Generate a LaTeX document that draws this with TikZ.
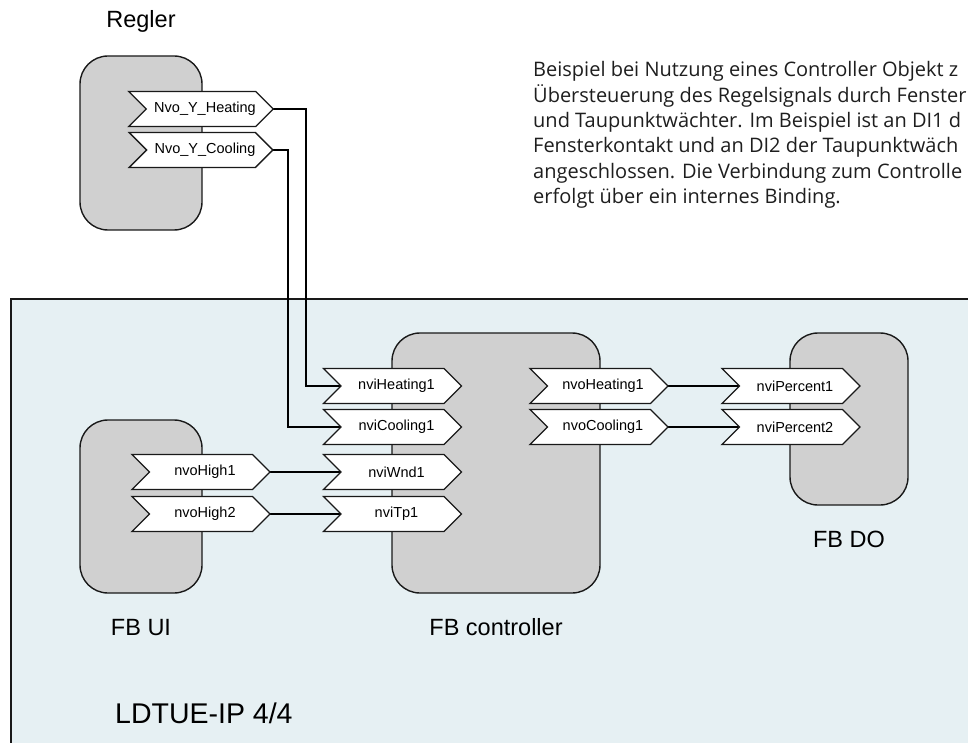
\documentclass[tikz,border=0pt]{standalone}
\usepackage{fontspec}
\setmainfont{Liberation Sans}
\newfontfamily\notefont{Open Sans}
\usetikzlibrary{shapes.symbols,calc}
\pgfdeclarelayer{back}
\pgfdeclarelayer{wires}
\pgfsetlayers{back,wires,main}
\definecolor{panel}{RGB}{230,240,243}
\definecolor{fbgray}{RGB}{208,208,208}
\definecolor{ink}{RGB}{25,25,25}
\definecolor{notegray}{RGB}{30,30,30}
\begin{document}
\begin{tikzpicture}[x=1pt,y=-1pt,
  fb/.style={draw=ink, fill=fbgray, line width=1.4pt, rounded corners=28pt, inner sep=0pt},
  tag/.style={shape=signal, signal from=west, signal to=east, draw=ink, fill=white,
    line width=1.3pt, minimum width=138pt, minimum height=35pt, inner sep=0pt,
    font=\fontsize{14.5}{16}\selectfont, execute at begin node=\hspace*{8pt}},
  wire/.style={draw=black, line width=1.8pt},
  boldwire/.style={draw=black, line width=2.7pt},
  lbl/.style={font=\fontsize{23.5}{27}\selectfont, anchor=base, inner sep=0pt},
  note/.style={font=\notefont\fontsize{20}{25}\selectfont, text=notegray, anchor=base west, inner sep=0pt},
]
\useasboundingbox (0,0) rectangle (968,743);
\clip (0,0) rectangle (968,743);

% device frame
\begin{pgfonlayer}{back}
  \node[draw=ink, fill=panel, line width=2.5pt, minimum width=1000pt, minimum height=480pt, inner sep=0pt]
    (dev) at (511,539) {};
\end{pgfonlayer}

% function blocks
\node[fb, minimum width=122pt, minimum height=174pt] (regler) at (141,143) {};
\node[fb, minimum width=122pt, minimum height=173pt] (fbui) at (141,506.5) {};
\node[fb, minimum width=208pt, minimum height=260pt] (fbctl) at (496,463) {};
\node[fb, minimum width=118pt, minimum height=172pt] (fbdo) at (849,419) {};

% block titles
\node[lbl] (lregler) at (141,28) {Regler};
\node[lbl] (lfbui) at (141,635) {FB UI};
\node[lbl] (lfbctl) at (496,635) {FB controller};
\node[lbl] (lfbdo) at (849,547) {FB DO};
\node[lbl, anchor=base west, font=\fontsize{28.5}{32}\selectfont] (ldev) at (115,723) {LDTUE-IP 4/4};

% network variables
\node[tag] (nvoYH) at (201,109) {Nvo\_Y\_Heating};
\node[tag] (nvoYC) at (201,150) {Nvo\_Y\_Cooling};
\node[tag] (nvoH1) at (201,472) {nvoHigh1};
\node[tag] (nvoH2) at (201,514) {nvoHigh2};
\node[tag] (nviHeat) at (392.5,386) {nviHeating1};
\node[tag] (nviCool) at (392.5,427) {nviCooling1};
\node[tag] (nviWnd) at (392.5,472) {nviWnd1};
\node[tag] (nviTp) at (392.5,514) {nviTp1};
\node[tag] (nvoHeat) at (599,386) {nvoHeating1};
\node[tag] (nvoCool) at (599,427) {nvoCooling1};
\node[tag] (nviP1) at (791,386) {nviPercent1};
\node[tag] (nviP2) at (791,427) {nviPercent2};

% bindings
\coordinate (hbend) at (306,250);
\coordinate (cbend) at (288,250);
\begin{pgfonlayer}{wires}
  \draw[wire] (nvoYH.center) -| (hbend) |- (nviHeat.center);
  \draw[wire] (nvoYC.center) -| (cbend) |- (nviCool.center);
  \draw[wire] (nvoH1.center) -- (nviWnd.center);
  \draw[wire] (nvoH2.center) -- (nviTp.center);
  \draw[boldwire] (nvoHeat.center) -- (nviP1.center);
  \draw[wire] (nvoCool.center) -- (nviP2.center);
\end{pgfonlayer}

% description
\node[note] (n1) at (533,77) {Beispiel bei Nutzung eines Controller Objekt z};
\node[note] (n2) at (533,103) {Übersteuerung des Regelsignals durch Fenster};
\node[note] (n3) at (533,128) {und Taupunktwächter. Im Beispiel ist an DI1 d};
\node[note] (n4) at (533,153) {Fensterkontakt und an DI2 der Taupunktwäch};
\node[note] (n5) at (533,179) {angeschlossen. Die Verbindung zum Controlle};
\node[note] (n6) at (533,204) {erfolgt über ein internes Binding.};
\end{tikzpicture}
\end{document}
